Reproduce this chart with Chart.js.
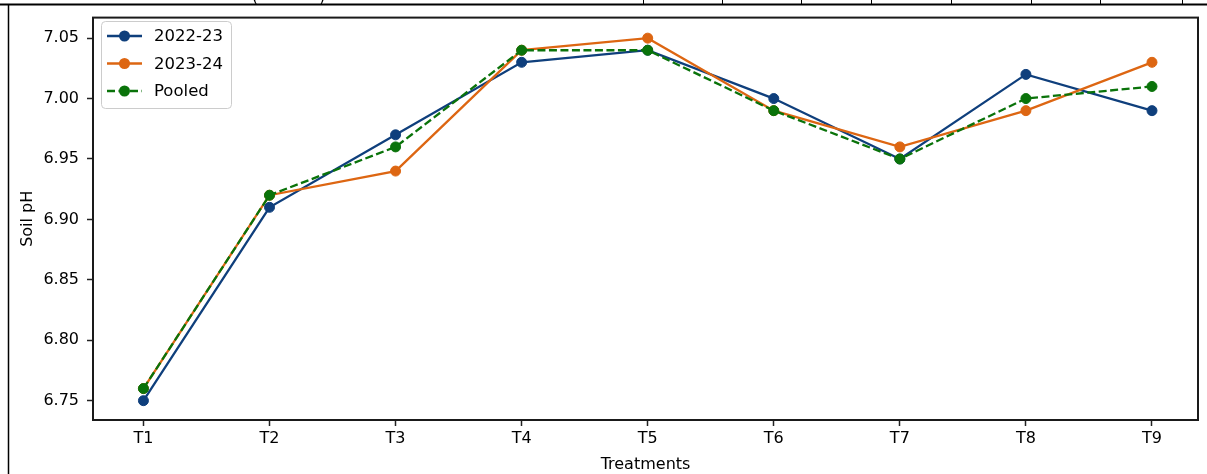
<!DOCTYPE html>
<html>
<head>
<meta charset="utf-8">
<script src="https://cdn.jsdelivr.net/npm/chart.js@4.4.1/dist/chart.umd.min.js"></script>
<style>
    body { margin: 0; background: #fff; }
    #wrap { width: 1207px; height: 474px; position: relative; }
</style>
</head>
<body>
<div id="wrap"><canvas id="phChart"></canvas></div>
<script>
// Datos del gráfico
const treatments = ["T1", "T2", "T3", "T4", "T5", "T6", "T7", "T8", "T9"];
const ph2022 = [6.75, 6.91, 6.97, 7.03, 7.04, 7.00, 6.95, 7.02, 6.99];
const ph2023 = [6.76, 6.92, 6.94, 7.04, 7.05, 6.99, 6.96, 6.99, 7.03];
const phPooled = [6.76, 6.92, 6.96, 7.04, 7.04, 6.99, 6.95, 7.00, 7.01];
const yTicks = [6.75, 6.80, 6.85, 6.90, 6.95, 7.00, 7.05];

const FONT = "'DejaVu Sans', 'Liberation Sans', sans-serif";
const cBlue = '#0f3f7c', cOrange = '#dd6612', cGreen = '#0a730a';

function toXY(arr) {
    return arr.map((v, i) => ({ x: i, y: v }));
}

// Bordes de la tabla recortada + marco del gráfico + leyenda
const decorPlugin = {
    id: 'decor',
    afterDatasetsDraw(chart) {
        const { ctx, chartArea: a } = chart;
        ctx.save();
        // marco (spines)
        ctx.strokeStyle = '#1a1a1a';
        ctx.lineWidth = 2;
        ctx.strokeRect(a.left, a.top, a.right - a.left, a.bottom - a.top);

        // líneas de la tabla
        ctx.strokeStyle = '#000';
        ctx.lineWidth = 2;
        ctx.beginPath();
        ctx.moveTo(0, 4.5); ctx.lineTo(1207, 4.5);
        ctx.stroke();
        ctx.lineWidth = 1.5;
        ctx.beginPath();
        ctx.moveTo(8.5, 4); ctx.lineTo(8.5, 474);
        ctx.stroke();
        ctx.lineWidth = 1;
        [643, 722, 801, 871, 951, 1031, 1100, 1182].forEach(x => {
            ctx.beginPath();
            ctx.moveTo(x + 0.5, 0); ctx.lineTo(x + 0.5, 4);
            ctx.stroke();
        });
        ctx.fillStyle = '#000';
        ctx.font = '16px ' + FONT;
        ctx.textBaseline = 'alphabetic';
        ctx.fillText('(', 252, 2);
        ctx.fillText(')', 319, 2);

        // leyenda
        const bx = 101, by = 21, bw = 130, bh = 87;
        ctx.fillStyle = 'rgba(255,255,255,0.85)';
        ctx.strokeStyle = '#cccccc';
        ctx.lineWidth = 1;
        ctx.beginPath();
        ctx.roundRect(bx + 0.5, by + 0.5, bw, bh, 4);
        ctx.fill();
        ctx.stroke();
        const rows = [36, 63.5, 91];
        chart.data.datasets.forEach((ds, i) => {
            const y = rows[i];
            ctx.strokeStyle = ds.borderColor;
            ctx.lineWidth = 2.3;
            ctx.setLineDash(ds.borderDash || []);
            ctx.beginPath();
            ctx.moveTo(107, y); ctx.lineTo(142, y);
            ctx.stroke();
            ctx.setLineDash([]);
            ctx.fillStyle = ds.pointBackgroundColor;
            ctx.beginPath();
            ctx.arc(124.5, y, 5.5, 0, Math.PI * 2);
            ctx.fill();
            ctx.fillStyle = '#000';
            ctx.font = '16.5px ' + FONT;
            ctx.textBaseline = 'middle';
            ctx.fillText(ds.label, 154, y + 1);
        });
        ctx.restore();
    }
};

const ctx = document.getElementById('phChart');
new Chart(ctx, {
    type: 'line',
    data: {
        datasets: [
            {
                label: '2022-23',
                data: toXY(ph2022),
                borderColor: cBlue,
                backgroundColor: cBlue,
                pointBackgroundColor: cBlue,
                pointBorderColor: cBlue,
                borderWidth: 2.3,
                pointRadius: 5,
                pointBorderWidth: 1,
                tension: 0,
                order: 3
            },
            {
                label: '2023-24',
                data: toXY(ph2023),
                borderColor: cOrange,
                backgroundColor: cOrange,
                pointBackgroundColor: cOrange,
                pointBorderColor: cOrange,
                borderWidth: 2.3,
                pointRadius: 5,
                pointBorderWidth: 1,
                tension: 0,
                order: 2
            },
            {
                label: 'Pooled',
                data: toXY(phPooled),
                borderColor: cGreen,
                backgroundColor: cGreen,
                pointBackgroundColor: cGreen,
                pointBorderColor: cGreen,
                borderWidth: 2.3,
                borderDash: [8, 3.5],
                pointRadius: 5,
                pointBorderWidth: 1,
                tension: 0,
                order: 1
            }
        ]
    },
    options: {
        responsive: true,
        maintainAspectRatio: false,
        animation: false,
        layout: { padding: { left: 0, top: 12, right: 9, bottom: 0 } },
        plugins: { legend: { display: false }, tooltip: { enabled: false } },
        scales: {
            x: {
                type: 'linear',
                min: -0.4,
                max: 8.365,
                afterBuildTicks: s => { s.ticks = treatments.map((t, i) => ({ value: i })); },
                afterFit: s => { s.height = 54; },
                ticks: {
                    autoSkip: false,
                    maxRotation: 0,
                    padding: 3,
                    color: '#000',
                    font: { family: FONT, size: 16 },
                    callback: v => treatments[v]
                },
                grid: { drawOnChartArea: false, tickLength: 6, tickColor: '#222', tickWidth: 1.5 },
                border: { display: false },
                title: {
                    display: true,
                    text: 'Treatments',
                    color: '#000',
                    font: { family: FONT, size: 16 },
                    padding: { top: 0, bottom: 0 }
                }
            },
            y: {
                min: 6.734,
                max: 7.067,
                afterBuildTicks: s => { s.ticks = yTicks.map(v => ({ value: v })); },
                afterFit: s => { s.width = 93; },
                ticks: {
                    padding: 8,
                    color: '#000',
                    font: { family: FONT, size: 16 },
                    callback: v => Number(v).toFixed(2)
                },
                grid: { drawOnChartArea: false, tickLength: 6, tickColor: '#222', tickWidth: 1.5 },
                border: { display: false },
                title: {
                    display: true,
                    text: 'Soil pH',
                    color: '#000',
                    font: { family: FONT, size: 16 },
                    padding: { top: 18, bottom: 0 }
                }
            }
        }
    },
    plugins: [decorPlugin]
});
</script>
</body>
</html>
